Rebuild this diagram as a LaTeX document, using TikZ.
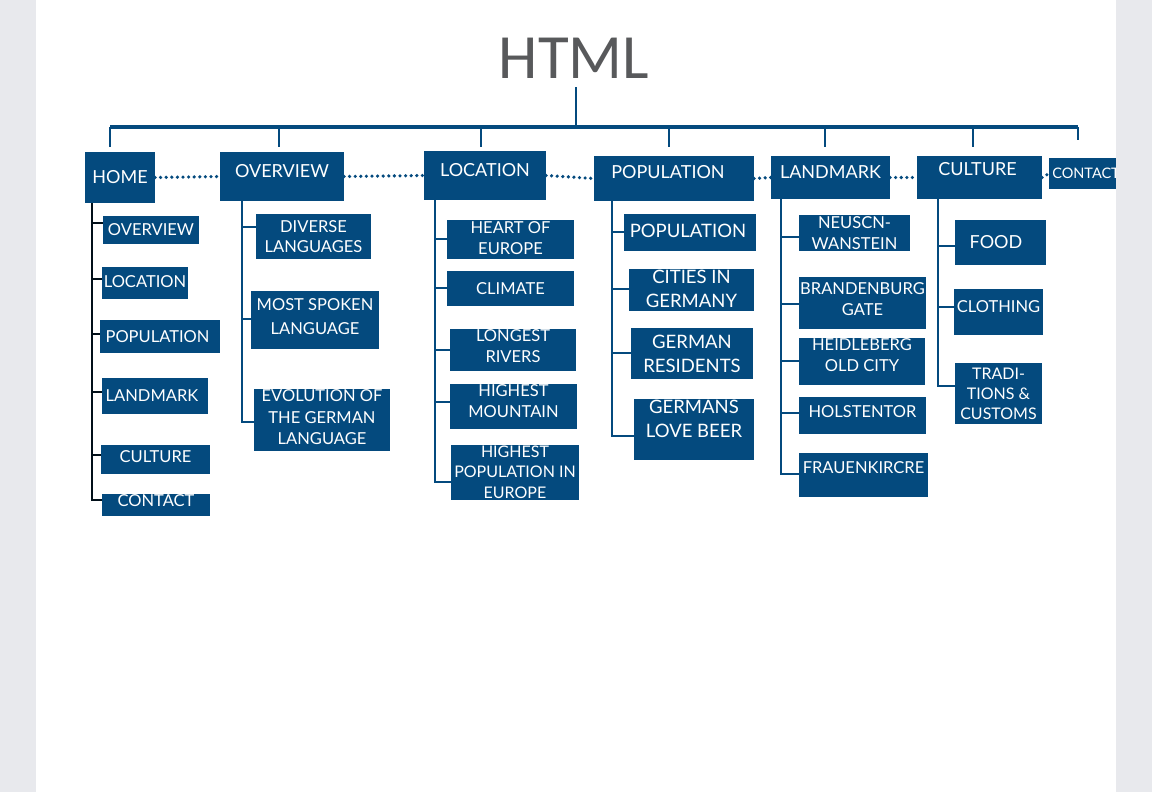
\documentclass[tikz,border=0pt]{standalone}
\usepackage{fontspec}
\setmainfont{Lato}
\newfontfamily\titlefont{Carlito}
\usepackage{tikz}

\definecolor{navy}{RGB}{4,74,126}
\definecolor{titlegrey}{RGB}{88,89,91}
\definecolor{pagegrey}{RGB}{232,233,237}

\tikzset{
  box/.style={fill=navy, inner sep=0pt, outer sep=0pt},
  boxtext/.style={text=white, align=center, inner sep=0pt, font=\fontsize{16.5}{21}\selectfont},
  toptext/.style={font=\fontsize{18}{22}\selectfont},
  bigtext/.style={font=\fontsize{18.5}{24}\selectfont},
  smalltext/.style={font=\fontsize{14.5}{18}\selectfont},
  title/.style={text=titlegrey, inner sep=0pt, font=\titlefont\fontsize{63}{63}\selectfont},
  tree/.style={navy, line width=1.2pt},
  hometree/.style={black!80!navy, line width=2.2pt},
  link/.style={navy, line width=3.6pt, line cap=round, dash pattern=on 0pt off 5.6pt},
  bar/.style={navy, line width=4.5pt},
  stem/.style={navy, line width=1.2pt},
}

% box from its corners: [label options]{name}{x1}{y1}{x2}{y2}{text}
\newcommand{\navybox}[7][]{%
  \node[box, minimum width=#5-#3, minimum height=#6-#4,
    label={[boxtext,#1]center:#7}] (#2) at ({(#3+#5)/2},{(#4+#6)/2}) {};}

\begin{document}
\begin{tikzpicture}[x=1pt, y=-1pt]
    \useasboundingbox (0,0) rectangle (1152,792);

    \node[title, anchor=base] (html) at (574,78) {HTML};
    \coordinate (bar) at (576,127);

    % top row
    \navybox[toptext]{home}{85}{152}{155}{203}{HOME}
    \navybox[toptext,yshift=5.5]{overview}{220}{152}{344}{201}{OVERVIEW}
    \navybox[toptext,yshift=5.5]{location}{424}{151}{546}{200}{LOCATION}
    \navybox[toptext,xshift=-6,yshift=6]{population}{594}{156}{754}{201}{POPULATION}
    \navybox[toptext,yshift=5.5]{landmark}{771}{156}{890}{199}{LANDMARK}
    \navybox[toptext,xshift=-2,yshift=8.5]{culture}{917}{156}{1042}{199}{CULTURE}
    \navybox[smalltext,xshift=3]{contact}{1049}{158}{1117}{189}{CONTACT}

    % home
    \navybox{h1}{103}{216}{199}{244}{OVERVIEW}
    \navybox[yshift=1]{h2}{102}{267}{188}{299}{LOCATION}
    \navybox[xshift=-2.5]{h3}{100}{320}{220}{353}{POPULATION}
    \navybox[xshift=-3]{h4}{102}{378}{208}{414}{LANDMARK}
    \navybox[yshift=2.5]{h5}{101}{445}{210}{474}{CULTURE}
    \navybox[yshift=4]{h6}{102}{494}{210}{516}{CONTACT}

    % overview
    \navybox[font=\fontsize{16.5}{20}\selectfont]{o1}{256}{214}{371}{259}{DIVERSE\\LANGUAGES}
    \navybox[yshift=3,font=\fontsize{16.5}{24}\selectfont]{o2}{251}{291}{379}{349}{MOST SPOKEN\\LANGUAGE}
    \navybox[yshift=2.5,font=\fontsize{16.5}{21.5}\selectfont]{o3}{254}{389}{390}{451}{EVOLUTION OF\\THE GERMAN\\LANGUAGE}

    % location
    \navybox[yshift=1.5]{l1}{447}{220}{574}{259}{HEART OF\\EUROPE}
    \navybox{l2}{447}{271}{574}{306}{CLIMATE}
    \navybox[yshift=3.5]{l3}{450}{329}{576}{371}{LONGEST\\RIVERS}
    \navybox[yshift=5]{l4}{450}{384}{577}{429}{HIGHEST\\MOUNTAIN}
    \navybox[yshift=0.5,font=\fontsize{16}{20.5}\selectfont]{l5}{451}{445}{579}{500}{HIGHEST\\POPULATION IN\\EUROPE}

    % population
    \navybox[bigtext,xshift=-2,yshift=2]{p1}{624}{214}{756}{251}{POPULATION}
    \navybox[bigtext,yshift=1]{p2}{629}{269}{754}{311}{CITIES IN\\GERMANY}
    \navybox[bigtext]{p3}{631}{328}{753}{379}{GERMAN\\RESIDENTS}
    \navybox[bigtext,yshift=11]{p4}{634}{399}{754}{460}{GERMANS\\LOVE BEER}

    % landmark
    \navybox{m1}{799}{215}{910}{251}{NEUSCN-\\WANSTEIN}
    \navybox[yshift=4]{m2}{799}{277}{926}{329}{BRANDENBURG\\GATE}
    \navybox[yshift=6]{m3}{799}{338}{925}{385}{HEIDLEBERG\\OLD CITY}
    \navybox[yshift=3.5]{m4}{799}{397}{926}{434}{HOLSTENTOR}
    \navybox[yshift=7]{m5}{799}{453}{928}{497}{FRAUENKIRCRE}

    % culture
    \navybox[toptext,xshift=-4.5]{c1}{955}{220}{1046}{265}{FOOD}
    \navybox[yshift=5]{c2}{954}{289}{1043}{335}{CLOTHING}
    \navybox[yshift=-0.5,font=\fontsize{16}{20.3}\selectfont]{c3}{955}{363}{1042}{424}{TRADI-\\TIONS \&\\CUSTOMS}

    % bar and drops
    \draw[stem] ([xshift=2,yshift=-9]html.south) -- ([xshift=2]html.south |- bar);
    \draw[bar] ([xshift=-10]home.north |- bar) -- ([xshift=-5]contact.north |- bar);
    \foreach \n/\dx/\len in {home/-10/20, overview/-3/20, location/-4/20, population/-5/20,
        landmark/-5.5/20, culture/-6.5/20, contact/-5/13}
      \draw[stem] ([xshift=\dx]\n.north |- bar) -- ++(0,\len);

    % dotted links
    \foreach \a/\b in {home/overview, overview/location, location/population,
        population/landmark, landmark/culture, culture/contact}
      \draw[link] (\a.east) -- (\b.west);

    % trees
    \foreach \c/\d in {h1/7, h2/4, h3/2.5, h4/4, h5/4.5, h6/5}
      \draw[hometree] ([xshift=7]home.south west) |- ([yshift=\d]\c.west);
    \foreach \c/\d in {o1/9.5, o2/1, o3/-2}
      \draw[tree] ([xshift=22]overview.south west) |- ([yshift=\d]\c.west);
    \foreach \c/\d in {l1/0.5, l2/0.5, l3/0, l4/4.5, l5/-9.5}
      \draw[tree] ([xshift=11]location.south west) |- ([yshift=\d]\c.west);
    \foreach \c/\d in {p1/0.5, p2/1, p3/0.5, p4/-6.5}
      \draw[tree] ([xshift=18]population.south west) |- ([yshift=\d]\c.west);
    \foreach \c/\d in {m1/-4, m2/-1, m3/0.5, m4/2.5, m5/1}
      \draw[tree] ([xshift=10]landmark.south west) |- ([yshift=\d]\c.west);
    \foreach \c/\d in {c1/-3.5, c2/5, c3/7.5}
      \draw[tree] ([xshift=21]culture.south west) |- ([yshift=\d]\c.west);

    % page margins
    \fill[pagegrey] (0,0) rectangle (36,792);
    \fill[pagegrey] (1116,0) rectangle (1152,792);
  \end{tikzpicture}
\end{document}
